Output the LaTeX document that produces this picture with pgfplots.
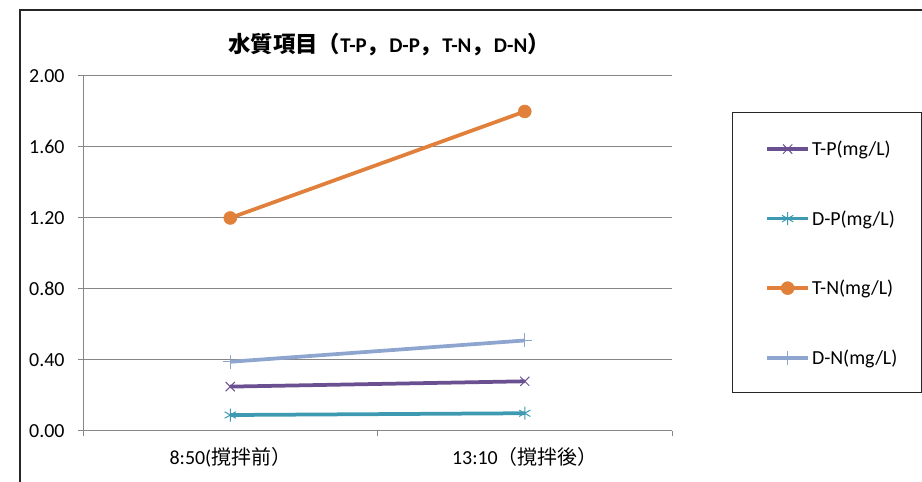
\documentclass[border=0pt]{standalone}
\usepackage{pgfplots}
\pgfplotsset{compat=1.18}
\usepackage{fontspec}
\setmainfont{Carlito}
\newfontfamily\cjk{Noto Sans CJK JP}
\definecolor{cTP}{HTML}{6B5091}
\definecolor{cDP}{HTML}{3D9AB0}
\definecolor{cTN}{HTML}{E0803A}
\definecolor{cDN}{HTML}{8EA6CF}
\definecolor{gridgray}{HTML}{868686}
\begin{document}
\begin{tikzpicture}[x=1bp,y=1bp]
\useasboundingbox (0,0) rectangle (922,482);
\draw[line width=1.2bp, black!85] (20,-2) -- (20,472) -- (924,472);
\node[font=\fontsize{21}{24}\selectfont\bfseries, inner sep=0pt] at (389,437)
  {{\cjk\fontsize{22.5}{24}\selectfont 水質項目（}T-P{\cjk\fontsize{22.5}{24}\selectfont ，}D-P{\cjk\fontsize{22.5}{24}\selectfont ，}T-N{\cjk\fontsize{22.5}{24}\selectfont ，}D-N{\cjk\fontsize{22.5}{24}\selectfont ）}};
\begin{axis}[
  at={(83bp,51bp)}, anchor=south west,
  scale only axis, width=589bp, height=355bp,
  xmin=-0.5, xmax=1.5, ymin=0, ymax=2,
  axis x line*=bottom, axis y line*=left,
  axis line style={gridgray, line width=1bp, -},
  ytick={0,0.4,0.8,1.2,1.6,2},
  /pgf/number format/assume math mode=true,
  yticklabel style={/pgf/number format/fixed, /pgf/number format/fixed zerofill, /pgf/number format/precision=2, xshift=-10bp},
  xtick={-0.5,0.5,1.5}, xticklabels={},
  extra x ticks={0,1},
  extra x tick labels={8:50({\cjk 撹拌前）},13:10{\cjk （撹拌後）}},
  extra x tick style={major tick length=0pt, xticklabel style={yshift=-13bp}},
  tick align=outside, major tick length=5bp,
  tick style={gridgray, line width=1bp},
  ymajorgrids, major grid style={gridgray, line width=1bp},
  tick label style={font=\fontsize{20}{23}\selectfont, black},
  legend style={draw=none, fill=none, at={(1.158,0.823)}, anchor=north west,
    row sep=49.5bp, font=\fontsize{20}{23}\selectfont, inner sep=0pt},
  legend cell align=left,
  legend image code/.code={\draw[mark repeat=2,mark phase=2,#1] plot coordinates {(0bp,0bp) (20.5bp,0bp) (41bp,0bp)};},
]
\addplot[cTP, line width=3.75bp, mark=x, mark size=6.5bp, mark options={line width=1bp}] coordinates {(0,0.25) (1,0.28)};
\addlegendentry{T-P(mg/L)}
\addplot[cDP, line width=3.75bp, mark=asterisk, mark size=6.5bp, mark options={line width=1bp}] coordinates {(0,0.09) (1,0.10)};
\addlegendentry{D-P(mg/L)}
\addplot[cTN, line width=3.75bp, mark=*, mark size=6.5bp, mark options={fill=cTN, draw=cTN, line width=0.5bp}] coordinates {(0,1.20) (1,1.80)};
\addlegendentry{T-N(mg/L)}
\addplot[cDN, line width=3.75bp, mark=+, mark size=7bp, mark options={line width=1bp}] coordinates {(0,0.39) (1,0.51)};
\addlegendentry{D-N(mg/L)}
\end{axis}
\draw[line width=1bp, black!85] (732,89) rectangle (921,369);
\end{tikzpicture}
\end{document}
